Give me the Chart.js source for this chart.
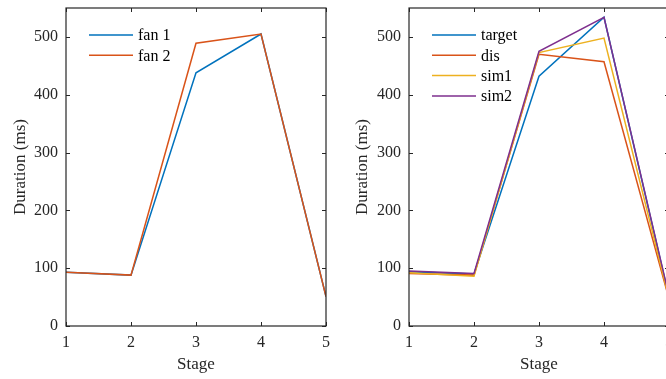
<!DOCTYPE html>
<html>
<head>
<meta charset="utf-8">
<script src="https://cdn.jsdelivr.net/npm/chart.js@4/dist/chart.umd.min.js"></script>
<style>
  html, body { margin: 0; padding: 0; background: #fff; overflow: hidden; width: 666px; height: 379px; }
  .wrap { position: absolute; top: 0; height: 379px; }
  canvas { display: block; }
</style>
</head>
<body>
<div class="wrap" style="left:0;width:333px;"><canvas id="c1" width="333" height="379"></canvas></div>
<div class="wrap" style="left:333px;width:343px;"><canvas id="c2" width="343" height="379"></canvas></div>
<script>
// ---- data ----
const stages = [1, 2, 3, 4, 5];
const xTicks = [1, 2, 3, 4, 5];
const yTicks = [0, 100, 200, 300, 400, 500];

const leftLabels = ['fan 1', 'fan 2'];
const fan1 = [93, 88, 438, 505, 51];
const fan2 = [93, 88, 489, 505, 51];

const rightLabels = ['target', 'dis', 'sim1', 'sim2'];
const target = [94, 90, 432, 534, 50];
const dis    = [91, 88, 470, 457, 47];
const sim1   = [92, 86, 473, 498, 48];
const sim2   = [95, 91, 475, 534, 52];

const colors = ['#0072BD', '#D95319', '#EDB120', '#7E2F8E'];
const AX = '#262626';
const SERIF = '"Liberation Serif", "Times New Roman", serif';

// ---- plugin: matlab-like box with inward ticks + inside legend ----
const matlabBox = {
  id: 'matlabBox',
  afterDatasetsDraw(chart) {
    const { ctx, chartArea: a, scales } = chart;
    const xs = scales.x, ys = scales.y;
    const tl = 4;
    ctx.save();
    ctx.strokeStyle = AX;
    ctx.lineWidth = 1;
    ctx.beginPath();
    xTicks.forEach(v => {
      const px = Math.round(xs.getPixelForValue(v)) + 0.5;
      ctx.moveTo(px, a.bottom); ctx.lineTo(px, a.bottom - tl);
      ctx.moveTo(px, a.top); ctx.lineTo(px, a.top + tl);
    });
    yTicks.forEach(v => {
      const py = Math.round(ys.getPixelForValue(v)) + 0.5;
      ctx.moveTo(a.left, py); ctx.lineTo(a.left + tl, py);
      ctx.moveTo(a.right, py); ctx.lineTo(a.right - tl, py);
    });
    ctx.stroke();
    ctx.lineWidth = 1.2;
    ctx.strokeRect(a.left, a.top, a.right - a.left, a.bottom - a.top);

    // legend
    const x0 = a.left + 23, len = 44, y0 = a.top + 27, dy = 20.3;
    ctx.font = '16px ' + SERIF;
    ctx.textBaseline = 'middle';
    ctx.textAlign = 'left';
    chart.data.datasets.forEach((ds, i) => {
      const y = y0 + i * dy;
      ctx.strokeStyle = ds.borderColor;
      ctx.lineWidth = 1.5;
      ctx.beginPath();
      ctx.moveTo(x0, y); ctx.lineTo(x0 + len, y);
      ctx.stroke();
      ctx.fillStyle = '#000';
      ctx.fillText(ds.label, x0 + len + 5, y + 1);
    });
    ctx.restore();
  }
};

function makeChart(id, labels, series, yAxisWidth, titlePad) {
  const datasets = series.map((s, i) => ({
    label: labels[i],
    data: stages.map((x, k) => ({ x: x, y: s[k] })),
    borderColor: colors[i],
    backgroundColor: colors[i],
    borderWidth: 1.5,
    pointRadius: 0,
    tension: 0,
    fill: false,
    order: -i
  }));
  return new Chart(document.getElementById(id), {
    type: 'line',
    data: { datasets },
    options: {
      responsive: false,
      animation: false,
      devicePixelRatio: 1,
      layout: { padding: { left: 0, right: 7, top: 8, bottom: 0 } },
      plugins: { legend: { display: false }, tooltip: { enabled: false } },
      scales: {
        x: {
          type: 'linear', min: 1, max: 5,
          grid: { display: false, drawTicks: false },
          border: { display: false },
          afterBuildTicks: sc => { sc.ticks = xTicks.map(v => ({ value: v })); },
          afterFit: sc => { sc.height = 53; sc.paddingLeft = 0; sc.paddingRight = 0; },
          ticks: { color: AX, font: { family: SERIF, size: 16 }, padding: 7, maxRotation: 0, autoSkip: false },
          title: { display: true, text: 'Stage', color: AX, font: { family: SERIF, size: 17 }, padding: { top: 0, bottom: 4 } }
        },
        y: {
          type: 'linear', min: 0, max: 550,
          grid: { display: false, drawTicks: false },
          border: { display: false },
          afterBuildTicks: sc => { sc.ticks = yTicks.map(v => ({ value: v })); },
          afterFit: sc => { sc.width = yAxisWidth; sc.paddingTop = 0; sc.paddingBottom = 0; },
          ticks: { color: AX, font: { family: SERIF, size: 16 }, padding: 8, autoSkip: false },
          title: { display: true, text: 'Duration (ms)', color: AX, font: { family: SERIF, size: 17 }, padding: { top: titlePad, bottom: 0 } }
        }
      }
    },
    plugins: [matlabBox]
  });
}

makeChart('c1', leftLabels, [fan1, fan2], 66, 10);
makeChart('c2', rightLabels, [target, dis, sim1, sim2], 76, 19);
</script>
</body>
</html>
